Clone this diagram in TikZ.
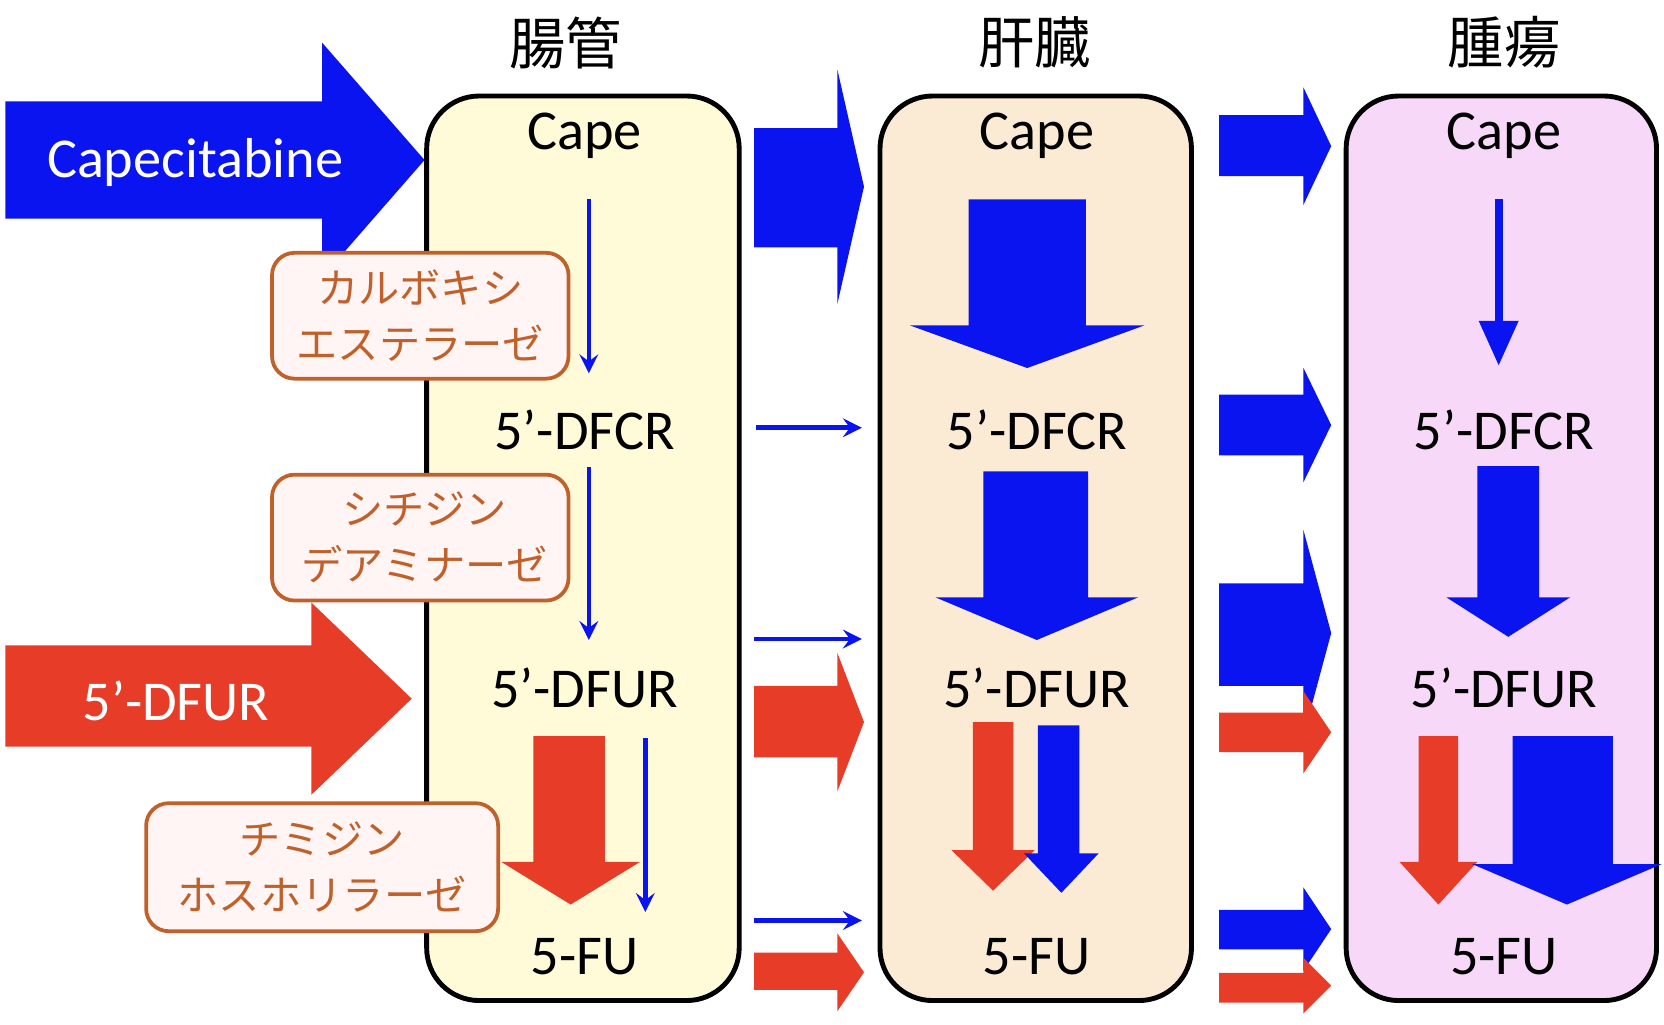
\documentclass[tikz,border=0pt]{standalone}
\usepackage{fontspec}
\usetikzlibrary{arrows.meta}
\setmainfont{Carlito}
\newfontfamily\cjk{Noto Sans CJK JP}
\definecolor{flowblue}{RGB}{10,20,240}
\definecolor{flowred}{RGB}{230,60,40}
\definecolor{enzline}{RGB}{192,96,42}
\definecolor{gutfill}{RGB}{255,250,215}
\definecolor{liverfill}{RGB}{252,235,212}
\definecolor{tumorfill}{RGB}{248,216,248}
% right block arrow: colour, shaft start, head start, tip, shaft top, shaft bottom, head top, head bottom
\newcommand\rarr[8]{\fill[#1] (#2,#5) -- (#3,#5) -- (#3,#7) -- (#4,{(#7+#8)/2}) -- (#3,#8) -- (#3,#6) -- (#2,#6) -- cycle;}
% down block arrow: colour, shaft start, head start, tip, shaft left, shaft right, head left, head right
\newcommand\darr[8]{\fill[#1] (#5,#2) -- (#5,#3) -- (#7,#3) -- ({(#7+#8)/2},#4) -- (#8,#3) -- (#6,#3) -- (#6,#2) -- cycle;}
\tikzset{
  organ/.style={draw=black,line width=1.3pt,rounded corners=14pt},
  enzyme/.style={draw=enzline,fill=pink!15,line width=1pt,rounded corners=6pt},
  enztext/.style={text=enzline,font=\cjk\fontsize{11}{15}\selectfont,align=center},
  title/.style={font=\cjk\fontsize{15}{15}\selectfont},
  drug/.style={font=\fontsize{15}{15}\selectfont},
  thin/.style={flowblue,line width=1.2pt,-stealth},
}
\begin{document}
\begin{tikzpicture}[x=0.01cm,y=-0.01cm]
\useasboundingbox (0,0) rectangle (1560,960);

% titles
\node[title] (tgut) at (530,40) {腸管};
\node[title] (tliver) at (970,40) {肝臓};
\node[title] (ttumor) at (1410,40) {腫瘍};

% organ boxes
\draw[organ,fill=gutfill] (400,90) rectangle (693,938);
\draw[organ,fill=liverfill] (825,90) rectangle (1117,938);
\draw[organ,fill=tumorfill] (1262,90) rectangle (1553,938);

% inputs
\rarr{flowblue}{5}{302}{398}{95}{205}{40}{260}
\node[drug,text=white] (capin) at (183,152) {Capecitabine};
\rarr{flowred}{5}{292}{386}{605}{700}{565}{745}
\node[drug,text=white] (dfurin) at (165,657) {5’-DFUR};

% enzymes
\draw[enzyme] (255,237) rectangle (533,355);
\node[enztext] (ces) at (394,296) {カルボキシ\\エステラーゼ};
\draw[enzyme] (255,445) rectangle (533,563);
\node[enztext] (cda) at (398,504) {シチジン\\デアミナーゼ};
\draw[enzyme] (137,753) rectangle (467,873);
\node[enztext] (tp) at (302,813) {チミジン\\ホスホリラーゼ};

% gut
\foreach \x/\n in {548/g, 972/l, 1410/t} {
  \node[drug] (cape\n) at (\x,127) {Cape};
  \node[drug] (dfcr\n) at (\x,403) {5’-DFCR};
  \node[drug] (dfur\n) at (\x,645) {5’-DFUR};
  \node[drug] (fu\n) at (\x,897) {5-FU};
}
\draw[thin] (552,187) -- (552,350);
\draw[thin] (552,438) -- (552,600);
\darr{flowred}{690}{808}{848}{500}{567}{470}{600}
\draw[thin] (605,692) -- (605,855);

% gut to liver
\rarr{flowblue}{707}{785}{810}{120}{232}{65}{285}
\draw[thin] (709,401) -- (808,401);
\draw[thin] (707,599) -- (808,599);
\rarr{flowred}{707}{785}{810}{643}{710}{612}{742}
\draw[thin] (707,863) -- (808,863);
\rarr{flowred}{707}{785}{810}{893}{928}{875}{948}

% liver
\darr{flowblue}{187}{305}{345}{908}{1018}{853}{1073}
\darr{flowblue}{442}{560}{600}{922}{1020}{877}{1067}
\darr{flowred}{677}{797}{835}{912}{950}{892}{970}
\darr{flowblue}{680}{800}{837}{973}{1012}{960}{1030}

% liver to tumour
\rarr{flowblue}{1143}{1222}{1248}{108}{165}{82}{192}
\rarr{flowblue}{1143}{1222}{1248}{370}{427}{345}{452}
\rarr{flowblue}{1143}{1222}{1248}{547}{643}{497}{690}
\rarr{flowred}{1143}{1222}{1248}{668}{705}{648}{725}
\rarr{flowblue}{1143}{1222}{1248}{853}{890}{832}{910}
\rarr{flowred}{1143}{1222}{1248}{912}{940}{898}{950}

% tumour
\draw[flowblue,line width=2.2pt,-{Triangle[width=10pt,length=12pt]}] (1405,187) -- (1405,343);
\darr{flowblue}{437}{560}{597}{1385}{1443}{1356}{1472}
\darr{flowred}{690}{808}{848}{1330}{1367}{1312}{1385}
\darr{flowblue}{690}{810}{848}{1418}{1512}{1380}{1558}
\end{tikzpicture}
\end{document}
